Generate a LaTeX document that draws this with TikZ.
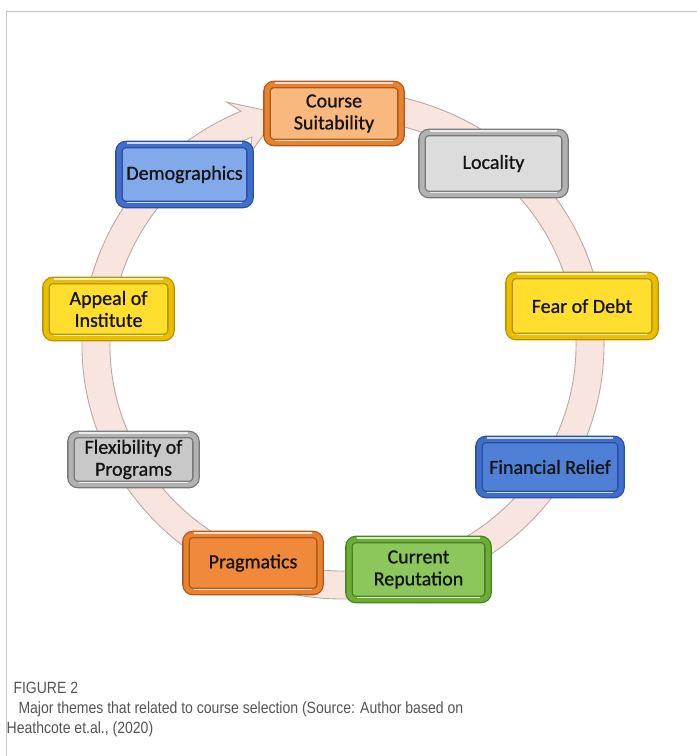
\documentclass[tikz,border=0pt]{standalone}
\usepackage{fontspec}
\setmainfont{Carlito}[FakeBold=0.9]
\newfontfamily\capfont[FakeStretch=0.86]{Liberation Sans}
\usetikzlibrary{calc,shadows}
\definecolor{ringP}{RGB}{248,229,224}
\definecolor{ringE}{RGB}{188,168,164}
\definecolor{frameG}{RGB}{196,196,196}
\definecolor{capG}{RGB}{84,84,84}
\definecolor{orgL}{RGB}{248,184,126}
\definecolor{orgM}{RGB}{232,130,48}
\definecolor{orgE}{RGB}{176,88,22}
\definecolor{orgS}{RGB}{240,138,58}
\definecolor{gryL}{RGB}{220,220,220}
\definecolor{gryM}{RGB}{178,178,178}
\definecolor{gryE}{RGB}{120,120,120}
\definecolor{gryS}{RGB}{200,200,200}
\definecolor{ylwL}{RGB}{255,222,46}
\definecolor{ylwM}{RGB}{236,190,0}
\definecolor{ylwE}{RGB}{180,146,0}
\definecolor{bluL}{RGB}{130,170,234}
\definecolor{bluM}{RGB}{64,110,204}
\definecolor{bluE}{RGB}{40,80,160}
\definecolor{bluS}{RGB}{80,128,214}
\definecolor{grnL}{RGB}{141,198,91}
\definecolor{grnM}{RGB}{108,173,55}
\definecolor{grnE}{RGB}{74,130,32}
\tikzset{
  theme/.style={rounded corners=7pt, line width=1.3pt, double distance=5pt,
    inner sep=0pt, align=center, text=black!92,
    font=\fontsize{20}{22}\selectfont,
    drop shadow={shadow xshift=2.5pt, shadow yshift=-2.5pt, opacity=0.3, fill=black!70}},
  themeO/.style={theme, draw=orgE, double=orgM},
  themeG/.style={theme, draw=gryE, double=gryM},
  themeY/.style={theme, draw=ylwE, double=ylwM, fill=ylwL},
  themeB/.style={theme, draw=bluE, double=bluM},
  themeN/.style={theme, draw=grnE, double=grnM, fill=grnL},
  gloss/.style={white, opacity=0.75, line width=1.1pt, line cap=round},
  capt/.style={inner sep=0pt, text=capG, font=\capfont\fontsize{16.3}{19.5}\selectfont},
}
\begin{document}
\begin{tikzpicture}[x=1pt, y=1pt]
  \useasboundingbox (0,0) rectangle (697,756);
  \draw[frameG, line width=0.9pt] (6.5,0) -- (6.5,745) -- (697,745);

  % circular arrow behind the themes
  \coordinate (hub) at (343,411);
  \draw[ringE, fill=ringP, line width=0.9pt]
    ($(hub)+(78:261 and 254)$) arc[start angle=78, end angle=-247, x radius=261, y radius=254]
    -- ($(hub)+(-245:275 and 268)$) -- ($(hub)+(-255:247 and 240)$)
    -- ($(hub)+(-245:219 and 212)$) -- ($(hub)+(-247:233 and 226)$)
    arc[start angle=-247, end angle=78, x radius=233, y radius=226] -- cycle;

  \node[themeO, fill=orgL, minimum width=134pt, minimum height=58pt] (suit) at (334,642.5) {Course\\Suitability};
  \node[themeG, fill=gryL, minimum width=143pt, minimum height=62pt] (loc) at (493.5,592.5) {Locality};
  \node[themeY, minimum width=146pt, minimum height=61pt] (debt) at (582,450) {Fear of Debt};
  \node[themeB, fill=bluS, minimum width=142pt, minimum height=55pt] (fin) at (550,289) {Financial Relief};
  \node[themeN, minimum width=139pt, minimum height=60pt] (rep) at (418.5,186.5) {Current\\Reputation};
  \node[themeO, fill=orgS, minimum width=134pt, minimum height=57pt] (prag) at (253,193) {Pragmatics};
  \node[themeG, fill=gryS, minimum width=125pt, minimum height=50pt] (flex) at (133.5,296.5) {Flexibility of\\Programs};
  \node[themeY, minimum width=125pt, minimum height=57pt] (app) at (108.5,447) {Appeal of\\Institute};
  \node[themeB, fill=bluL, minimum width=131pt, minimum height=60pt] (demo) at (184.5,581.5) {Demographics};

  \foreach \n in {suit,loc,debt,fin,rep,prag,flex,app,demo}{
    \draw[gloss] ([xshift=9pt,yshift=0.8pt]\n.north west) -- ([xshift=-9pt,yshift=0.8pt]\n.north east);
    \draw[gloss] ([xshift=9pt,yshift=2.2pt]\n.south west) -- ([xshift=-9pt,yshift=2.2pt]\n.south east);
  }

  \node[capt, anchor=base west] (figno) at (13.3,62.7) {FIGURE 2};
  \node[capt, anchor=base west] (capline) at (18.3,42.7) {Major themes that related to course selection (Source: Author based on};
  \node[capt, anchor=base west] (capsrc) at (6.5,22.7) {Heathcote et.al., (2020)};
\end{tikzpicture}
\end{document}
